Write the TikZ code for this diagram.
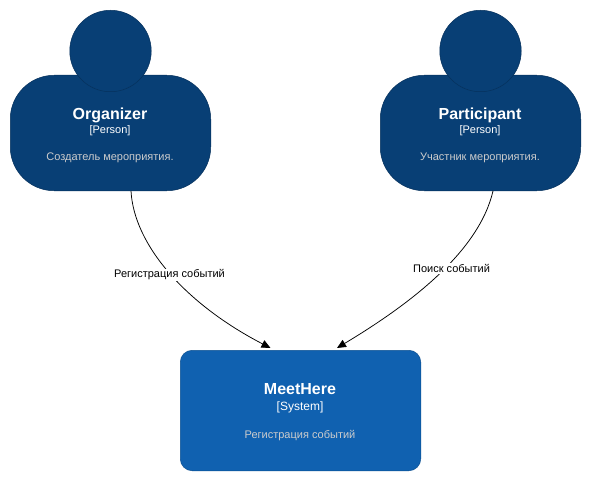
\documentclass[tikz,border=0pt]{standalone}
\usepackage{fontspec}
\setmainfont{Liberation Sans}
\usetikzlibrary{arrows.meta}
\definecolor{personfill}{HTML}{083F75}
\definecolor{personline}{HTML}{06315C}
\definecolor{sysfill}{HTML}{1061B0}
\definecolor{sysline}{HTML}{0D5091}
\definecolor{desc}{HTML}{CCCCCC}
\tikzset{
  body/.style={draw=personline,fill=personfill,rounded corners=44pt,minimum width=200.5pt,minimum height=115.5pt,inner sep=0pt,line width=0.5pt},
  head/.style={draw=personline,fill=personfill,circle,minimum size=81.5pt,inner sep=0pt,line width=0.5pt},
  sysbox/.style={draw=sysline,fill=sysfill,rounded corners=12pt,minimum width=240.5pt,minimum height=120.5pt,inner sep=0pt,line width=0.5pt},
  title/.style={anchor=base,text=white,font=\fontsize{16}{16}\selectfont\bfseries,inner sep=0pt},
  kind/.style={anchor=base,text=white,font=\fontsize{12}{12}\selectfont,inner sep=0pt},
  kindsmall/.style={anchor=base,text=white,font=\fontsize{11}{11}\selectfont,inner sep=0pt},
  note/.style={anchor=base,text=desc,font=\fontsize{11}{11}\selectfont,inner sep=0pt},
  edgelabel/.style={anchor=center,fill=white,text=black,font=\fontsize{11}{11}\selectfont,inner sep=1pt},
  rel/.style={draw=black,line width=0.75pt,-{Triangle[length=9pt,width=8pt]}},
}
\begin{document}
\begin{tikzpicture}[x=1pt,y=-1pt]
\useasboundingbox (0,0) rectangle (591,481);
\node[body] (orgbody) at (110.5,133) {};
\node[head] (orghead) at (110.5,51) {};
\node[title] (orgtitle) at (110,120) {Organizer};
\node[kindsmall] (orgkind) at (110,133.5) {[Person]};
\node[note] (orgnote) at (110,160.5) {Создатель мероприятия.};
\node[body] (parbody) at (480.5,133) {};
\node[head] (parhead) at (480.5,51) {};
\node[title] (partitle) at (480,120) {Participant};
\node[kindsmall] (parkind) at (480,133.5) {[Person]};
\node[note] (parnote) at (480,160.5) {Участник мероприятия.};
\node[sysbox] (sys) at (300.5,410.5) {};
\node[title] (systitle) at (300,394) {MeetHere};
\node[kind] (syskind) at (300,410) {[System]};
\node[note] (sysnote) at (300,438.5) {Регистрация событий};
\draw[rel] ([xshift=20.5pt]orgbody.south) .. controls +(3,54) and +(-85,-44) .. ([xshift=-30pt,yshift=2pt]sys.north);
\draw[rel] ([xshift=12.5pt]parbody.south) .. controls +(-14,60) and +(75,-45) .. ([xshift=36.5pt,yshift=2pt]sys.north);
\node[edgelabel] (l1) at (169.5,275) {Регистрация событий};
\node[edgelabel] (l2) at (451.5,268.5) {Поиск событий};
\end{tikzpicture}
\end{document}
